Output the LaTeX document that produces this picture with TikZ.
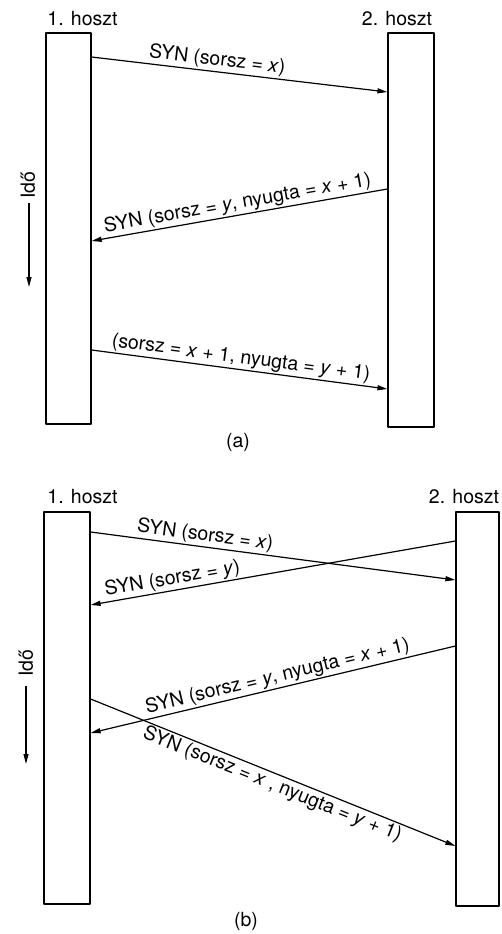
\documentclass[tikz,border=0pt]{standalone}
\usepackage{fontspec}
\setmainfont{TeX Gyre Heros}
\usetikzlibrary{arrows.meta}

\begin{document}
\begin{tikzpicture}[x=1pt, y=-1pt, line width=1.2pt, line join=round,
    host/.style={draw, inner sep=0pt},
    lbl/.style={inner sep=0pt, font=\fontsize{19.5}{23}\selectfont},
    msg/.style={inner sep=1.5pt, sloped, font=\fontsize{19.5}{23}\selectfont}]
  % 箭头头规格
  \def\arr{-{Triangle[width=5pt,length=10pt]}}

  % ════ (a) 主机 ════
  \node[host, minimum width=45pt, minimum height=391pt] (h1a) at (68.5,228.5) {};
  \node[host, minimum width=46pt, minimum height=394pt] (h2a) at (411,230) {};
  \node[lbl] (n1a) at (82.5,18.5) {1. hoszt};
  \node[lbl] (n2a) at (397,18.5) {2. hoszt};

  % ════ (a) 报文 ════
  \coordinate (a1s) at (h1a.east |- 0,57);
  \coordinate (a1e) at (h2a.west |- 0,92);
  \coordinate (a2s) at (h2a.west |- 0,189);
  \coordinate (a2e) at (h1a.east |- 0,241);
  \coordinate (a3s) at (h1a.east |- 0,350);
  \coordinate (a3e) at (h2a.west |- 0,389);
  \draw[\arr] (a1s) -- node[msg, above, pos=0.42] {SYN (sorsz = \textit{x})} (a1e);
  \draw[\arr] (a2s) -- node[msg, above, pos=0.5] {SYN (sorsz = \textit{y}, nyugta = \textit{x} + 1)} (a2e);
  \draw[\arr] (a3s) -- node[msg, above, pos=0.5] {(sorsz = \textit{x} + 1, nyugta = \textit{y} + 1)} (a3e);

  % ════ (a) 时间轴 ════
  \node[lbl, rotate=90] (ta) at (28,185) {Idő};
  \coordinate (ta1) at (29,203);
  \coordinate (ta2) at (29,287);
  \draw[\arr] (ta1) -- (ta2);
  \node[lbl] (capa) at (238,442) {(a)};

  % ════ (b) 主机 ════
  \node[host, minimum width=46pt, minimum height=392pt] (h1b) at (67,708) {};
  \node[host, minimum width=43pt, minimum height=394pt] (h2b) at (477.5,709) {};
  \node[lbl] (n1b) at (82.5,497) {1. hoszt};
  \node[lbl] (n2b) at (464,497) {2. hoszt};

  % ════ (b) 报文（交叉）════
  \coordinate (b1s) at (h1b.east |- 0,532);
  \coordinate (b1e) at (h2b.west |- 0,580);
  \coordinate (b2s) at (h2b.west |- 0,541);
  \coordinate (b2e) at (h1b.east |- 0,605);
  \coordinate (b3s) at (h2b.west |- 0,646);
  \coordinate (b3e) at (h1b.east |- 0,733);
  \coordinate (b4s) at (h1b.east |- 0,699);
  \coordinate (b4e) at (h2b.west |- 0,846);
  \draw[\arr] (b1s) -- node[msg, above, pos=0.31] {SYN (sorsz = \textit{x})} (b1e);
  \draw[\arr] (b2s) -- node[msg, above, pos=0.77] {SYN (sorsz = \textit{y})} (b2e);
  \draw[\arr] (b3s) -- node[msg, above, pos=0.48] {SYN (sorsz = \textit{y}, nyugta = \textit{x} + 1)} (b3e);
  \draw[\arr] (b4s) -- node[msg, below, pos=0.51] {SYN (sorsz = \textit{x} , nyugta = \textit{y} + 1)} (b4e);

  % ════ (b) 时间轴 ════
  \node[lbl, rotate=90] (tb) at (26,663) {Idő};
  \coordinate (tb1) at (26,686);
  \coordinate (tb2) at (26,764);
  \draw[\arr] (tb1) -- (tb2);
  \node[lbl] (capb) at (246,921) {(b)};

  % 钉死画布
  \path[use as bounding box] (0,0) rectangle (501,934);
\end{tikzpicture}
\end{document}
